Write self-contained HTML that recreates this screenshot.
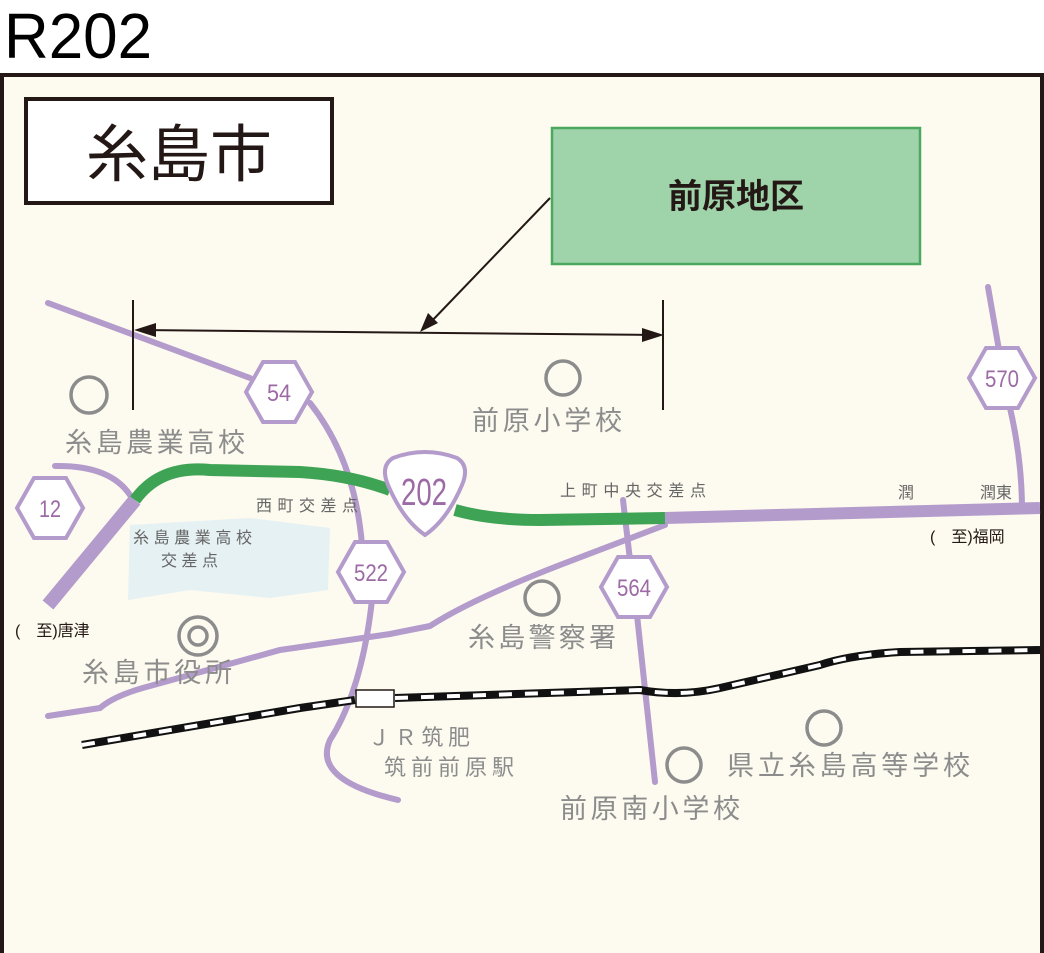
<!DOCTYPE html><html><head><meta charset="utf-8"><style>body{margin:0;background:#fff}svg{display:block}</style></head><body>
<svg width="1044" height="953" xmlns="http://www.w3.org/2000/svg" font-family="'Liberation Sans','Noto Sans CJK JP',sans-serif">
<rect width="1044" height="953" fill="#fff"/>
<text x="4" y="58" font-size="64" textLength="148" lengthAdjust="spacingAndGlyphs">R202</text>
<rect x="2" y="75" width="1040" height="885" fill="#fdfaef" stroke="#231815" stroke-width="4"/>
<path d="M130 525 L250 518 L330 528 L328 590 L270 598 L190 590 L128 600 Z" fill="#e6f1f4"/>
<rect x="26" y="99" width="306" height="104" fill="#fff" stroke="#231815" stroke-width="4"/>
<text x="179" y="176" font-size="62" text-anchor="middle" fill="#231815">糸島市</text>
<rect x="552" y="128" width="368" height="136" fill="#9fd3a9" stroke="#4aa860" stroke-width="2.5"/>
<text x="736" y="208" font-size="34" font-weight="bold" text-anchor="middle" fill="#231815">前原地区</text>
<g fill="none" stroke="#b39bcc" stroke-width="6" stroke-linecap="round">
<path d="M48 303 L250 378"/>
<path d="M310 403 Q355 460 362 545"/>
<path d="M372 600 Q362 690 330 740 Q312 780 398 800"/>
<path d="M55 466 Q110 465 130 495"/>
<path d="M988 287 L999 350"/><path d="M1010 408 Q1022 460 1022 510"/>
<path d="M623 500 L630 560"/><path d="M637 615 L655 782"/>
<path d="M48 716 L100 708 Q115 695 150 686 L280 650 L390 634 L430 626 Q470 600 560 565 L665 525"/>
<path d="M48 605 L135 500" stroke-width="14" stroke-linecap="butt"/>
<path d="M665 518 L1040 508" stroke-width="12" stroke-linecap="butt"/>
</g>
<path d="M135 500 Q160 465 210 470 L300 472 Q350 475 390 490 M455 510 Q490 520 540 520 L665 518" fill="none" stroke="#3ea354" stroke-width="12"/>
<g fill="none">
<path d="M82 745 L300 708 L355 700 M395 698 L640 690 Q680 697 720 688 L820 665 Q850 655 900 652 L1040 650" stroke="#111" stroke-width="8"/>
<path d="M82 745 L300 708 L355 700 M395 698 L640 690 Q680 697 720 688 L820 665 Q850 655 900 652 L1040 650" stroke="#fff" stroke-width="4" stroke-dasharray="13 13"/>
</g>
<rect x="356" y="690" width="38" height="17" fill="#fff" stroke="#231815" stroke-width="1.5"/>
<g stroke="#231815" stroke-width="2" fill="none">
<path d="M133 300 V410 M663 300 V410 M140 330 L656 335 M550 198 L428 325"/>
</g>
<path d="M134 330 L156 323 L156 337 Z M664 335 L642 328 L642 342 Z M420 332 L428 313 L438 323 Z" fill="#231815"/>
<g fill="none" stroke="#8c8c8c" stroke-width="3.5">
<circle cx="89" cy="395" r="18"/><circle cx="563" cy="378" r="17"/><circle cx="542" cy="598" r="17"/>
<circle cx="684" cy="765" r="17"/><circle cx="824" cy="728" r="17"/>
<circle cx="198" cy="636" r="19"/><circle cx="198" cy="636" r="9"/>
</g>
<g fill="#8c8c8c" font-size="27">
<text x="65" y="452" textLength="180">糸島農業高校</text>
<text x="472" y="430" textLength="150">前原小学校</text>
<text x="468" y="647" textLength="148">糸島警察署</text>
<text x="82" y="682" textLength="150">糸島市役所</text>
<text x="727" y="775" textLength="243">県立糸島高等学校</text>
<text x="560" y="818" textLength="180">前原南小学校</text>
<text x="368" y="745" font-size="22" textLength="102">ＪＲ筑肥</text>
<text x="384" y="775" font-size="22" textLength="130">筑前前原駅</text>
</g>
<g fill="#666" font-size="16">
<text x="256" y="511" textLength="102">西町交差点</text>
<text x="133" y="543" textLength="119">糸島農業高校</text>
<text x="161" y="566" textLength="57">交差点</text>
<text x="560" y="496" textLength="146">上町中央交差点</text>
<text x="898" y="498">潤</text>
<text x="980" y="498">潤東</text>
</g>
<g fill="#231815" font-size="16">
<text x="15" y="636">(　至)唐津</text>
<text x="930" y="542">(　至)福岡</text>
</g>
<g fill="#fff" stroke="#b39bcc" stroke-width="4">
<path d="M263 362 H295 L312 392 L295 422 H263 L246 392 Z"/>
<path d="M34 478 H66 L83 508 L66 538 H34 L17 508 Z"/>
<path d="M355 542 H387 L404 572 L387 602 H355 L338 572 Z"/>
<path d="M618 557 H650 L667 587 L650 617 H618 L601 587 Z"/>
<path d="M986 348 H1018 L1035 378 L1018 408 H986 L969 378 Z"/>
<path d="M393 458 Q425 446 457 458 Q470 466 462 485 Q447 520 425 535 Q403 520 388 485 Q380 466 393 458 Z"/>
</g>
<g fill="#9c6aa5" text-anchor="middle" font-size="24">
<text x="279" y="401" textLength="24" lengthAdjust="spacingAndGlyphs">54</text>
<text x="50" y="517" textLength="22" lengthAdjust="spacingAndGlyphs">12</text>
<text x="371" y="581" textLength="34" lengthAdjust="spacingAndGlyphs">522</text>
<text x="634" y="596" textLength="34" lengthAdjust="spacingAndGlyphs">564</text>
<text x="1002" y="387" textLength="34" lengthAdjust="spacingAndGlyphs">570</text>
<text x="424" y="505" font-size="38" textLength="46" lengthAdjust="spacingAndGlyphs">202</text>
</g>
</svg></body></html>
